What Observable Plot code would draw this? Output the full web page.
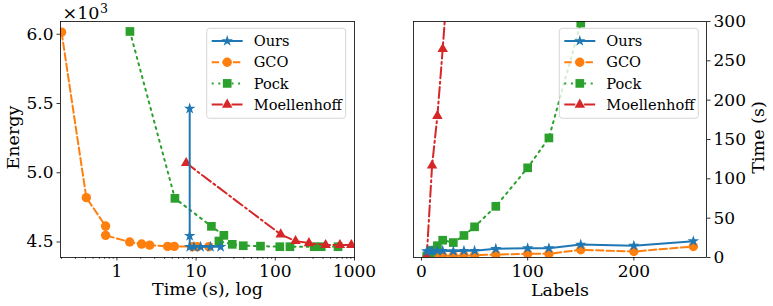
<!DOCTYPE html>
<html><head><meta charset="utf-8">
<script src="https://cdn.jsdelivr.net/npm/d3@7"></script>
<script src="https://cdn.jsdelivr.net/npm/@observablehq/plot@0.6"></script>
<style>
body{margin:0;background:#fff}
#row{display:flex;width:773px;height:306px}
#row svg{display:block}
#row svg, #row svg text{font-family:"DejaVu Serif", serif !important}
</style>
</head><body><div id="row"></div>
<script>
const FONT = "'DejaVu Serif', serif";
const methods = ["Ours", "GCO", "Pock", "Moellenhoff"];
const colors = ["#1f77b4", "#ff7f0e", "#2ca02c", "#d62728"];
const symbols = ["star", "circle", "square", "triangle"];
const dashes = [null, "7.4,3.2", "2,4.6", "11,3.4,2,3.4"];
const radii = [3.6, 4.7, 4.9, 3.9];

// Left panel: Time (s) [log] vs Energy (x10^3)
const oursTime = [8.3, 8.3, 8.3, 9.4, 11.4, 15.2, 20.4];
const oursEnergy = [5.463, 4.544, 4.465, 4.465, 4.465, 4.465, 4.465];
const gcoTime = [0.2, 0.411, 0.72, 0.72, 1.45, 2.05, 2.59, 4.37, 5.3, 8.96, 10.4, 14.5];
const gcoEnergy = [6.015, 4.82, 4.615, 4.548, 4.50, 4.485, 4.477, 4.468, 4.468, 4.466, 4.466, 4.466];
const pockTime = [1.46, 5.4, 15.6, 22.4, 19.4, 28.6, 39.4, 65, 114, 153, 310, 380, 620];
const pockEnergy = [6.02, 4.815, 4.613, 4.548, 4.507, 4.483, 4.473, 4.470, 4.466, 4.466, 4.466, 4.466, 4.466];
const moelTime = [7.5, 117, 180, 266, 432, 654, 912];
const moelEnergy = [5.07, 4.555, 4.507, 4.492, 4.478, 4.478, 4.478];

// Right panel: Labels vs Time (s)
const oursLabels = [5, 8, 10, 15, 20, 30, 40, 50, 70, 100, 120, 150, 200, 256];
const oursSec = [8, 8, 8.5, 8.5, 8.5, 8, 8.5, 8.5, 11, 11.8, 11.8, 16.5, 15, 20.7];
const gcoLabels = [5, 8, 10, 15, 20, 30, 40, 50, 70, 100, 120, 150, 200, 256];
const gcoSec = [0.8, 1, 1.2, 1.5, 2, 2.2, 2.5, 2.8, 3.8, 4.7, 4.7, 9.8, 7.6, 14];
const pockLabels = [5, 8, 10, 15, 20, 30, 40, 50, 70, 100, 120, 150];
const pockSec = [2, 5, 9, 15, 22, 19, 28, 39, 65, 114, 152, 298];
const moelLabels = [5, 10, 15, 20, 30];
const moelSec = [2, 117, 180, 265, 450];

// Tick labels
const energyTicks = [4.5, 5.0, 5.5, 6.0];
const timeTicks = [1, 10, 100, 1000];
const timeMinorTicks = [0.2, 0.3, 0.4, 0.5, 0.6, 0.7, 0.8, 0.9, 2, 3, 4, 5, 6, 7, 8, 9,
  20, 30, 40, 50, 60, 70, 80, 90, 200, 300, 400, 500, 600, 700, 800, 900];
const labelTicks = [0, 100, 200];
const secTicks = [0, 50, 100, 150, 200, 250, 300];

const pts = (xs, ys) => xs.map((x, i) => ({x, y: ys[i]}));
const leftSeries = [pts(oursTime, oursEnergy), pts(gcoTime, gcoEnergy), pts(pockTime, pockEnergy), pts(moelTime, moelEnergy)];
const rightSeries = [pts(oursLabels, oursSec), pts(gcoLabels, gcoSec), pts(pockLabels, pockSec), pts(moelLabels, moelSec)];
const drawOrder = [1, 2, 3, 0];

function seriesMarks(series) {
  const m = [];
  for (const i of drawOrder) {
    m.push(Plot.line(series[i], {x: "x", y: "y", stroke: colors[i], strokeWidth: 2,
      strokeDasharray: dashes[i] || undefined, strokeLinejoin: "round", clip: true}));
    m.push(Plot.dot(series[i], {x: "x", y: "y", symbol: symbols[i], r: radii[i], fill: colors[i], stroke: "none", clip: true}));
  }
  return m;
}

const style = {fontFamily: FONT, fontSize: "17px", color: "black", background: "white", overflow: "visible"};

const left = Plot.plot({
  width: 386, height: 306,
  marginLeft: 60, marginRight: 32, marginTop: 21, marginBottom: 49,
  x: {type: "log", domain: [0.194, 1000]},
  y: {domain: [4.388, 6.092]},
  style,
  marks: [
    ...seriesMarks(leftSeries),
    Plot.frame({stroke: "black", strokeWidth: 0.8}),
    Plot.axisX(timeMinorTicks, {tickSize: 2, tickFormat: () => "", label: null, strokeWidth: 0.6}),
    Plot.axisX(timeTicks, {tickSize: 3.5, tickPadding: 3.5, tickFormat: d => String(d), fontSize: 17, label: null, strokeWidth: 0.8}),
    Plot.axisY(energyTicks, {anchor: "left", tickSize: 3.5, tickPadding: 3.5, tickFormat: d => d.toFixed(1), fontSize: 17, label: null, strokeWidth: 0.8}),
    Plot.text(["×10"], {frameAnchor: "top-left", dx: 2, dy: -2.5, textAnchor: "start", lineAnchor: "bottom", fontSize: 17.5}),
    Plot.text(["3"], {frameAnchor: "top-left", dx: 39.5, dy: -9, textAnchor: "start", lineAnchor: "bottom", fontSize: 12.5}),
    Plot.text(["Energy"], {frameAnchor: "left", dx: -47, dy: -2, rotate: -90, textAnchor: "middle", lineAnchor: "middle", fontSize: 17.5}),
    Plot.text(["Time (s), log"], {frameAnchor: "bottom", dy: 37, textAnchor: "middle", lineAnchor: "bottom", fontSize: 17.5})
  ]
});

const right = Plot.plot({
  width: 387, height: 306,
  marginLeft: 27, marginRight: 67, marginTop: 21, marginBottom: 49,
  x: {domain: [-7.5, 268.4]},
  y: {domain: [0, 300]},
  style,
  marks: [
    ...seriesMarks(rightSeries),
    Plot.frame({stroke: "black", strokeWidth: 0.8}),
    Plot.axisX(labelTicks, {tickSize: 3.5, tickPadding: 3.5, fontSize: 17, label: null, strokeWidth: 0.8}),
    Plot.axisY(secTicks, {anchor: "right", tickSize: 3.5, tickPadding: 3.5, fontSize: 17, label: null, strokeWidth: 0.8}),
    Plot.text(["Time (s)"], {frameAnchor: "right", dx: 52, dy: -2, rotate: -90, textAnchor: "middle", lineAnchor: "middle", fontSize: 17.5}),
    Plot.text(["Labels"], {frameAnchor: "bottom", dy: 38, textAnchor: "middle", lineAnchor: "bottom", fontSize: 17.5})
  ]
});

// drop the empty labels of the minor ticks
d3.select(left).selectAll("text").filter(function() { return this.textContent === ""; }).remove();

function addLegend(svg, bx, by) {
  const g = d3.select(svg).append("g").attr("text-anchor", "start");
  g.append("rect").attr("x", bx).attr("y", by).attr("width", 139).attr("height", 90)
    .attr("rx", 3).attr("fill", "white").attr("fill-opacity", 0.8)
    .attr("stroke", "#cccccc").attr("stroke-width", 0.8);
  const symMap = {star: d3.symbolStar, circle: d3.symbolCircle, square: d3.symbolSquare, triangle: d3.symbolTriangle};
  methods.forEach((name, i) => {
    const cy = by + 12.7 + i * 21.2;
    g.append("line").attr("x1", bx + 5).attr("x2", bx + 36).attr("y1", cy).attr("y2", cy)
      .attr("stroke", colors[i]).attr("stroke-width", 2)
      .attr("stroke-dasharray", dashes[i]);
    g.append("path").attr("transform", `translate(${bx + 20.5},${cy})`)
      .attr("d", d3.symbol(symMap[symbols[i]], radii[i] * radii[i] * Math.PI)())
      .attr("fill", colors[i]);
    g.append("text").attr("x", bx + 47).attr("y", cy).attr("dy", "0.35em")
      .attr("text-anchor", "start")
      .attr("font-family", FONT).attr("font-size", 14.6).attr("fill", "black").text(name);
  });
}
addLegend(left, 206.7, 28.3);
addLegend(right, 173.3, 28.3);

const row = document.getElementById("row");
row.appendChild(left);
row.appendChild(right);
</script>
</body></html>
